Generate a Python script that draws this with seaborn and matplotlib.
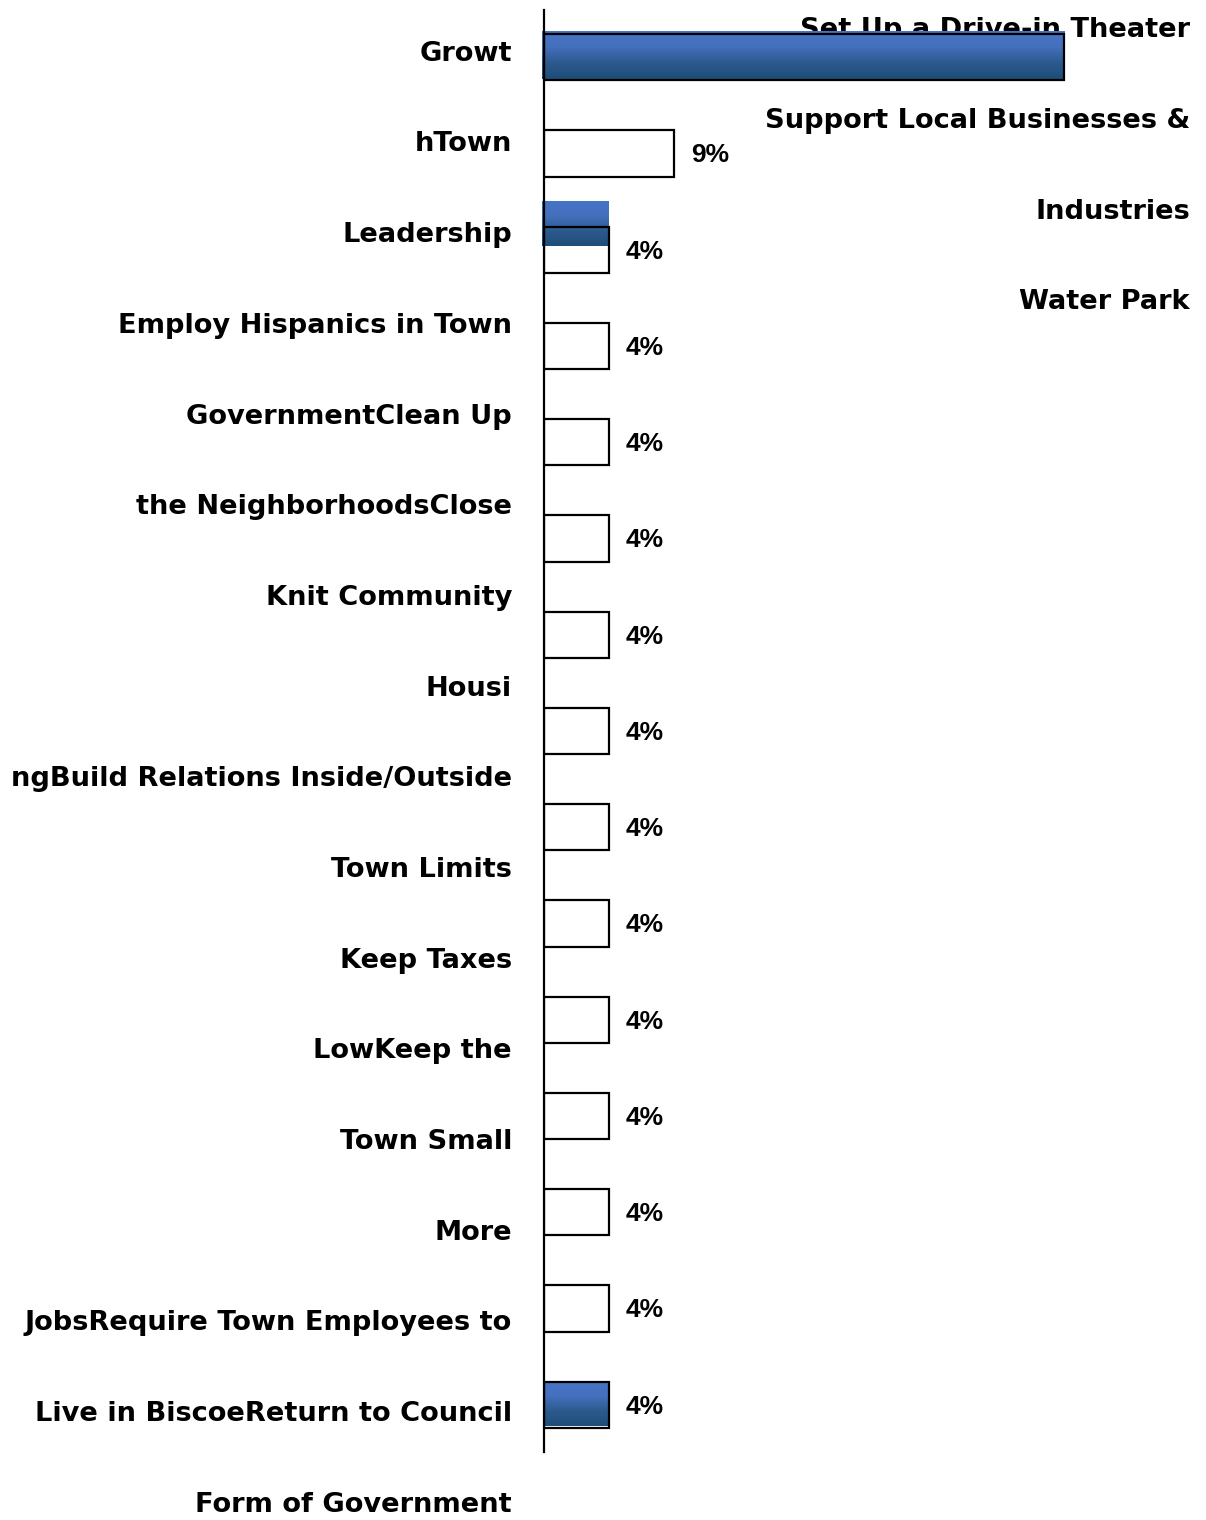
import numpy as np
import pandas as pd
import matplotlib
matplotlib.use("Agg")
import matplotlib.pyplot as plt
import seaborn as sns
from matplotlib.colors import LinearSegmentedColormap

# ---------------- data ----------------
bar_items = [f"row{i + 1}" for i in range(15)]
pct_values = [34.8, 8.7] + [4.35] * 13
pct_labels = ["", "9%"] + ["4%"] * 13
highlight_values = [34.8, 0, 4.35] + [0] * 11 + [4.35]

left_labels = [
    "Growt", "hTown", "Leadership", "Employ Hispanics in Town",
    "GovernmentClean Up", "the NeighborhoodsClose", "Knit Community",
    "Housi", "ngBuild Relations Inside/Outside", "Town Limits",
    "Keep Taxes", "LowKeep the", "Town Small", "More",
    "JobsRequire Town Employees to", "Live in BiscoeReturn to Council",
    "Form of Government",
]
right_labels = ["Set Up a Drive-in Theater", "Support Local Businesses &",
                "Industries", "Water Park"]

# ---------------- style ----------------
sns.set_theme(style="white")
plt.rcParams["font.family"] = ["Liberation Sans", "DejaVu Sans"]
CAT_FONT = ["DejaVu Sans"]
CAT_FS = 19.6
PCT_FS = 19

fig = plt.figure(figsize=(12.06, 15.20), dpi=100)
ax = fig.add_axes([544 / 1206, 1 - 1452 / 1520, (1190 - 544) / 1206, (1452 - 10) / 1520])

df = pd.DataFrame({"item": bar_items, "pct": pct_values})
sns.barplot(data=df, y="item", x="pct", orient="h", color="white",
            edgecolor="black", linewidth=1.6, width=0.48, ax=ax, saturation=1)
for p in ax.patches:
    p.set_facecolor("none")
    p.set_zorder(3)

# highlighted (gradient) series, slightly misregistered as in the source
blue_offsets = {0: (-0.02, 0.50, -0.13), 2: (-0.275, 0.47, -0.13), 14: (-0.01, 0.46, 0.0)}
cmap = LinearSegmentedColormap.from_list("g", ["#4674C6", "#4570BE", "#2C5A8E", "#1F4D78"])
grad = np.linspace(0, 1, 256).reshape(-1, 1)
for i, v in enumerate(highlight_values):
    if v <= 0:
        continue
    dy, h, dx = blue_offsets[i]
    bars = ax.barh([i + dy], [v - dx], left=dx, height=h, color="#3A66A8",
                   edgecolor="none", zorder=2)
    patch = bars.patches[0]
    x0, y0 = patch.get_x(), patch.get_y()
    im = ax.imshow(grad, cmap=cmap, aspect="auto", origin="upper",
                   extent=[x0, x0 + patch.get_width(), y0 + patch.get_height(), y0],
                   zorder=2.1)
    im.set_clip_path(patch)

# value labels
for i, (v, lab) in enumerate(zip(pct_values, pct_labels)):
    if lab:
        ax.text(v + 1.13, i + 0.02, lab, ha="left", va="center", fontsize=PCT_FS,
                fontweight="bold", color="black", zorder=4)

# category texts (misaligned as in source)
ytr = ax.get_yaxis_transform()
for k, t in enumerate(left_labels):
    ax.text(-0.0495, -0.035 + 0.942 * k, t, transform=ytr, ha="right", va="center",
            fontsize=CAT_FS, fontweight="bold", family=CAT_FONT, color="black",
            clip_on=False, zorder=1.5)
for k, t in enumerate(right_labels):
    ax.text(1.0, -0.28 + 0.942 * k, t, transform=ytr, ha="right", va="center",
            fontsize=CAT_FS, fontweight="bold", family=CAT_FONT, color="black",
            clip_on=False, zorder=1.5)

ax.set_xlim(0, 43.2)
ax.set_ylim(14.49, -0.49)
ax.set_xticks([])
ax.set_yticks([])
ax.set_xlabel("")
ax.set_ylabel("")
for s in ["top", "right", "bottom"]:
    ax.spines[s].set_visible(False)
ax.spines["left"].set_color("black")
ax.spines["left"].set_linewidth(1.6)
ax.spines["left"].set_zorder(5)
ax.patch.set_alpha(0)

fig.savefig("out.png", dpi=100, facecolor="white")
